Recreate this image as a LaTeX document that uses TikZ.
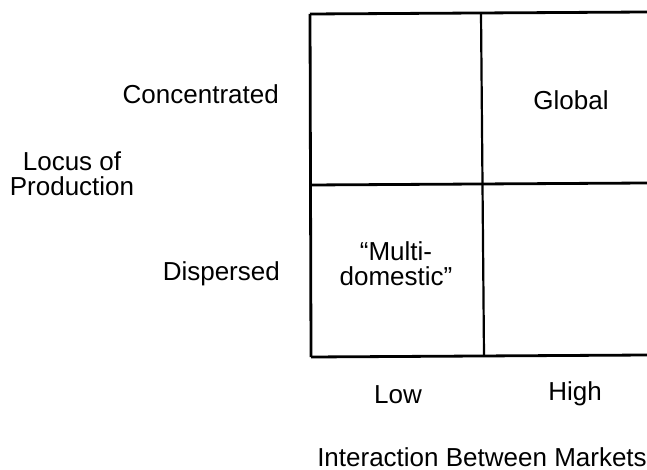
\documentclass[tikz,border=0pt]{standalone}
\usepackage{fontspec}
\setmainfont{Liberation Sans}
\begin{document}
\begin{tikzpicture}[x=1pt,y=-1pt,
  grid/.style={line width=2.8pt,black},
  lbl/.style={font=\fontsize{26}{25}\selectfont,inner sep=0pt,align=center}]
\useasboundingbox[fill=white] (0,0) rectangle (647,470);
\coordinate (tl) at (310,14);
\coordinate (tr) at (647,12);
\coordinate (ml) at (310,185);
\coordinate (mr) at (647,183);
\coordinate (bl) at (311,357);
\coordinate (br) at (647,355);
\coordinate (mt) at (481,13);
\coordinate (mb) at (484,356);
\draw[grid] (tl) -- (tr);
\draw[grid] (ml) -- (mr);
\draw[grid] (bl) -- (br);
\draw[grid] (tl) -- (bl);
\draw[grid,line width=2.2pt] (mt) -- (mb);
\node[lbl,anchor=base east] (conc) at (279,104) {Concentrated};
\node[lbl,anchor=base east] (disp) at (280,280) {Dispersed};
\node[lbl] (locus) at (72,174) {Locus of\\Production};
\node[lbl,anchor=base] (glob) at (571,110) {Global};
\node[lbl] (multi) at (396,264) {``Multi-\\domestic''};
\node[lbl,anchor=base] (low) at (398,403) {Low};
\node[lbl,anchor=base] (high) at (575,400) {High};
\node[lbl,anchor=base] (inter) at (482,466) {Interaction Between Markets};
\end{tikzpicture}
\end{document}
